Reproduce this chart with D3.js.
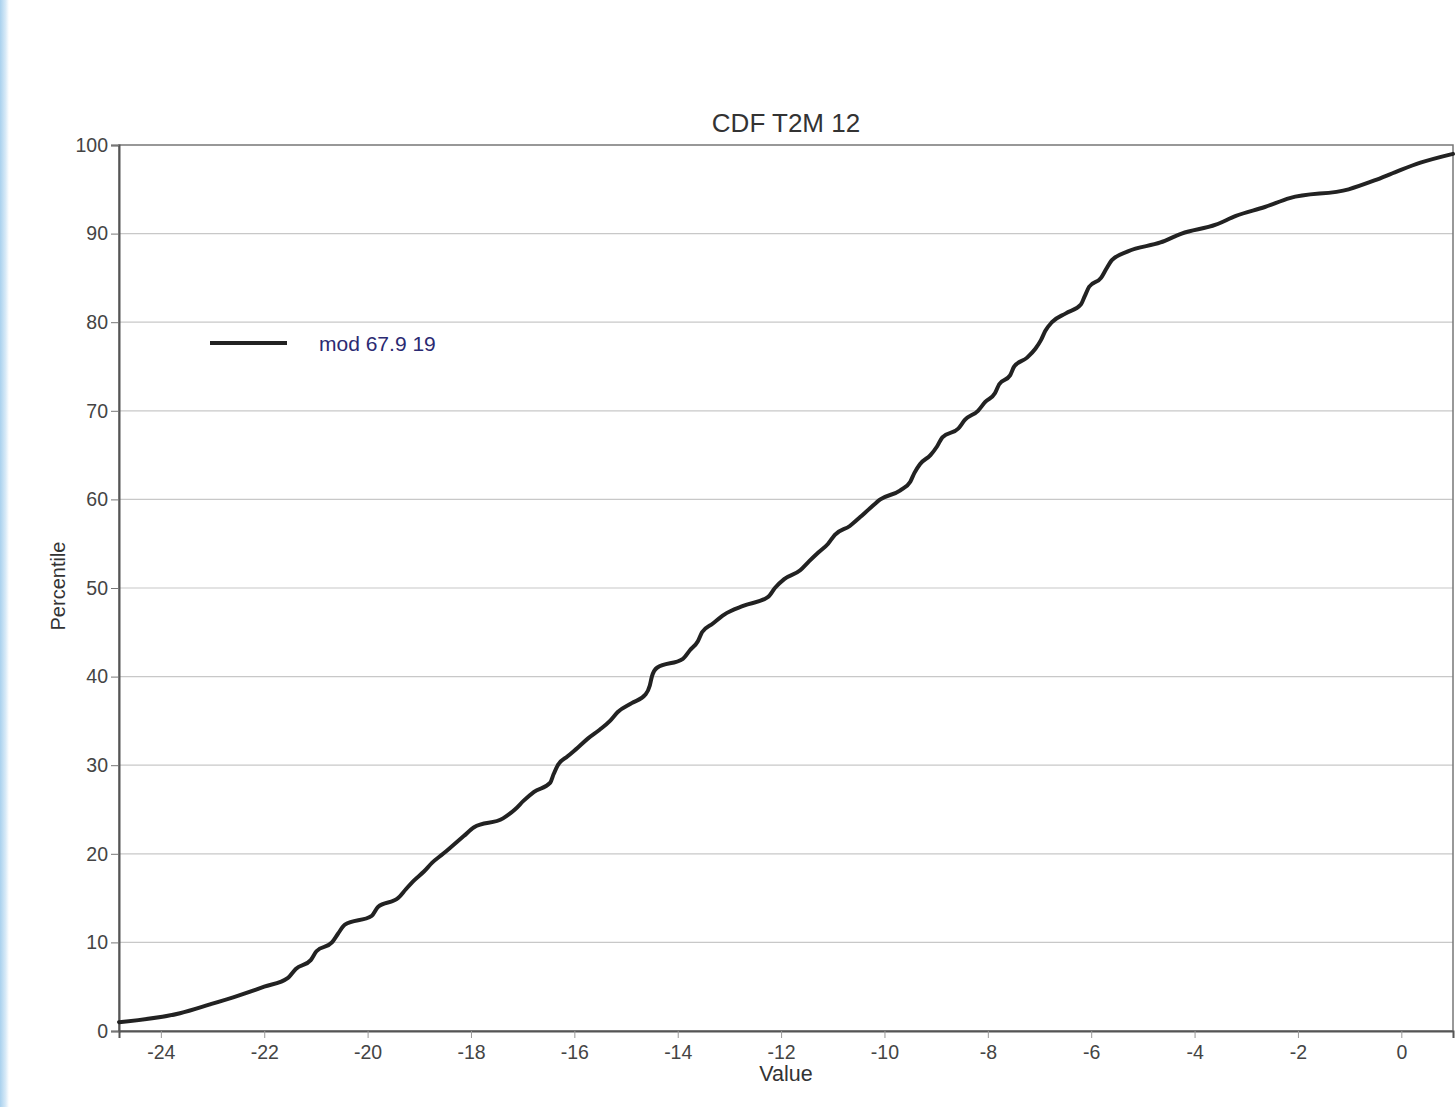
<!DOCTYPE html>
<html>
<head>
<meta charset="utf-8">
<script src="https://cdn.jsdelivr.net/npm/d3@7"></script>
<style>
  html, body { margin: 0; padding: 0; background: #fff; }
  svg { display: block; }
</style>
</head>
<body>
<svg id="chart" width="1455" height="1107"></svg>
<script>
// ---- data ----
const percentiles = d3.range(1, 100);
const values = [
  -24.81, -23.63, -23.05, -22.50, -22.00, -21.54, -21.39, -21.10, -20.99, -20.69,
  -20.57, -20.44, -19.92, -19.80, -19.41, -19.26, -19.10, -18.91, -18.75, -18.54,
  -18.34, -18.14, -17.94, -17.38, -17.15, -16.98, -16.78, -16.47, -16.40, -16.32,
  -16.13, -15.93, -15.74, -15.51, -15.31, -15.16, -14.89, -14.62, -14.54, -14.50,
  -14.40, -13.90, -13.76, -13.61, -13.53, -13.32, -13.10, -12.72, -12.25, -12.12,
  -11.94, -11.63, -11.46, -11.28, -11.09, -10.96, -10.67, -10.47, -10.28, -10.08,
  -9.70, -9.50, -9.42, -9.31, -9.11, -8.98, -8.88, -8.57, -8.44, -8.19,
  -8.05, -7.86, -7.78, -7.57, -7.49, -7.24, -7.08, -6.97, -6.89, -6.76,
  -6.49, -6.20, -6.12, -6.04, -5.81, -5.71, -5.60, -5.29, -4.66, -4.25,
  -3.59, -3.20, -2.64, -2.16, -1.02, -0.52, -0.09, 0.37, 1.00
];
const xTicks = [-24, -22, -20, -18, -16, -14, -12, -10, -8, -6, -4, -2, 0];
const yTicks = [0, 10, 20, 30, 40, 50, 60, 70, 80, 90, 100];
const titleText = "CDF T2M 12";
const seriesName = "mod 67.9 19";
const xLabel = "Value";
const yLabel = "Percentile";

// ---- layout ----
const svg = d3.select("#chart");
const m = { left: 119, right: 1453, top: 145, bottom: 1031 };
const font = "'Liberation Sans', Arial, Helvetica, sans-serif";

// left blue strip
const defs = svg.append("defs");
const grad = defs.append("linearGradient").attr("id", "strip").attr("x1", "0").attr("x2", "1");
grad.append("stop").attr("offset", "0").attr("stop-color", "#a9d1ee");
grad.append("stop").attr("offset", "0.6").attr("stop-color", "#d6e9f7");
grad.append("stop").attr("offset", "1").attr("stop-color", "#ffffff");
svg.append("rect").attr("x", 0).attr("y", 0).attr("width", 9).attr("height", 1107).attr("fill", "url(#strip)");

const x = d3.scaleLinear().domain([d3.min(values), d3.max(values)]).range([m.left, m.right]);
const y = d3.scaleLinear().domain([0, 100]).range([m.bottom, m.top]);

// grid
svg.append("g").selectAll("line").data(yTicks.filter(d => d > 0 && d < 100)).join("line")
  .attr("x1", m.left).attr("x2", m.right)
  .attr("y1", d => y(d)).attr("y2", d => y(d))
  .attr("stroke", "#c8c8c8").attr("stroke-width", 1.2);

// frame
svg.append("rect").attr("x", m.left).attr("y", m.top)
  .attr("width", m.right - m.left).attr("height", m.bottom - m.top)
  .attr("fill", "none").attr("stroke", "#777").attr("stroke-width", 1.5);

// y axis
const yAxis = d3.axisLeft(y).tickValues(yTicks).tickSize(8).tickPadding(3).tickFormat(d => String(d));
const gy = svg.append("g").attr("transform", `translate(${m.left},0)`).call(yAxis);
gy.select(".domain").attr("stroke", "#555").attr("stroke-width", 2);
gy.selectAll(".tick line").attr("stroke", "#777");
gy.selectAll(".tick text").attr("font-family", font).attr("font-size", 19.5).attr("fill", "#444");

// x axis
const xAxis = d3.axisBottom(x).tickValues(xTicks).tickSize(7).tickPadding(7).tickFormat(d => String(d));
const gx = svg.append("g").attr("transform", `translate(0,${m.bottom})`).call(xAxis);
gx.select(".domain").attr("stroke", "#555").attr("stroke-width", 2);
gx.selectAll(".tick line").attr("stroke", "#999");
gx.selectAll(".tick text").attr("font-family", font).attr("font-size", 19.5).attr("fill", "#444");

// curve
const line = d3.line()
  .x((d, i) => x(values[i]))
  .y((d, i) => y(percentiles[i]))
  .curve(d3.curveMonotoneX);
svg.append("path").datum(percentiles).attr("d", line)
  .attr("fill", "none").attr("stroke", "#222").attr("stroke-width", 4)
  .attr("stroke-linejoin", "round").attr("stroke-linecap", "round");

// title
svg.append("text").attr("x", (m.left + m.right) / 2).attr("y", 132)
  .attr("text-anchor", "middle").attr("font-family", font).attr("font-size", 26)
  .attr("fill", "#333").text(titleText);

// axis labels
svg.append("text").attr("x", (m.left + m.right) / 2).attr("y", 1081)
  .attr("text-anchor", "middle").attr("font-family", font).attr("font-size", 21.5)
  .attr("fill", "#333").text(xLabel);
svg.append("text").attr("transform", `translate(65,${(m.top + m.bottom) / 2 - 2}) rotate(-90)`)
  .attr("text-anchor", "middle").attr("font-family", font).attr("font-size", 20)
  .attr("fill", "#333").text(yLabel);

// legend
svg.append("line").attr("x1", 210).attr("x2", 287).attr("y1", 343).attr("y2", 343)
  .attr("stroke", "#222").attr("stroke-width", 4);
svg.append("text").attr("x", 319).attr("y", 351)
  .attr("font-family", font).attr("font-size", 21).attr("fill", "#2b2a72").text(seriesName);
</script>
</body>
</html>
